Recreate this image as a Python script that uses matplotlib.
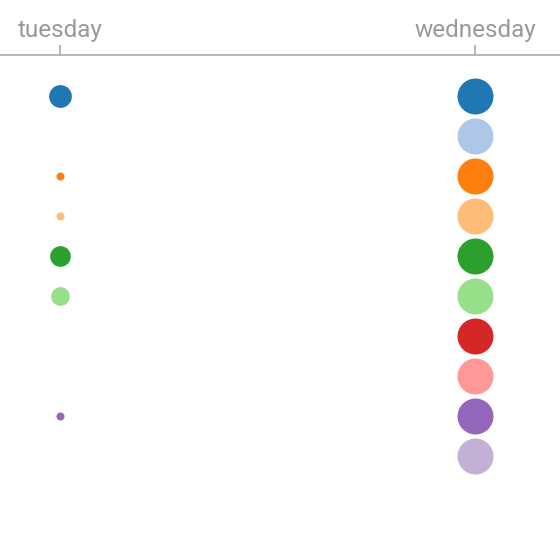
import matplotlib
matplotlib.use('Agg')
import matplotlib.pyplot as plt

days = ['tuesday', 'wednesday']
categories = ['c0', 'c1', 'c2', 'c3', 'c4', 'c5', 'c6', 'c7', 'c8', 'c9']
tuesday = [40, 0, 5, 5, 33, 27, 0, 0, 5, 0]
wednesday = [100, 100, 100, 100, 100, 100, 100, 100, 100, 100]
colors = plt.get_cmap('tab20').colors[:10]

plt.rcParams['font.family'] = 'Roboto'

fig = plt.figure(figsize=(5.6, 5.56), dpi=100)
ax = fig.add_axes([0, 0, 1, 1])

max_s = 671  # marker area (pt^2) for the largest value
for d, vals in enumerate([tuesday, wednesday]):
    for i, v in enumerate(vals):
        if v <= 0:
            continue
        ax.scatter(d, i, s=v / 100 * max_s, color=colors[i], linewidths=0, zorder=3)

ax.set_xlim(-60 / 415, 1 + 85 / 415)
ax.set_ylim(460 / 40, -96 / 40)

for s in ['left', 'right', 'bottom']:
    ax.spines[s].set_visible(False)
ax.spines['top'].set_position(('data', -41 / 40))
ax.spines['top'].set_color('#aaaaaa')
ax.spines['top'].set_linewidth(1.2)

ax.xaxis.set_ticks_position('top')
ax.set_xticks(range(len(days)))
ax.set_xticklabels(days)
ax.tick_params(axis='x', direction='out', length=7, width=1.2, color='#aaaaaa',
               labelcolor='#999999', labelsize=17.5, pad=2.5)
ax.set_yticks([])

fig.savefig('out.png', dpi=100)
